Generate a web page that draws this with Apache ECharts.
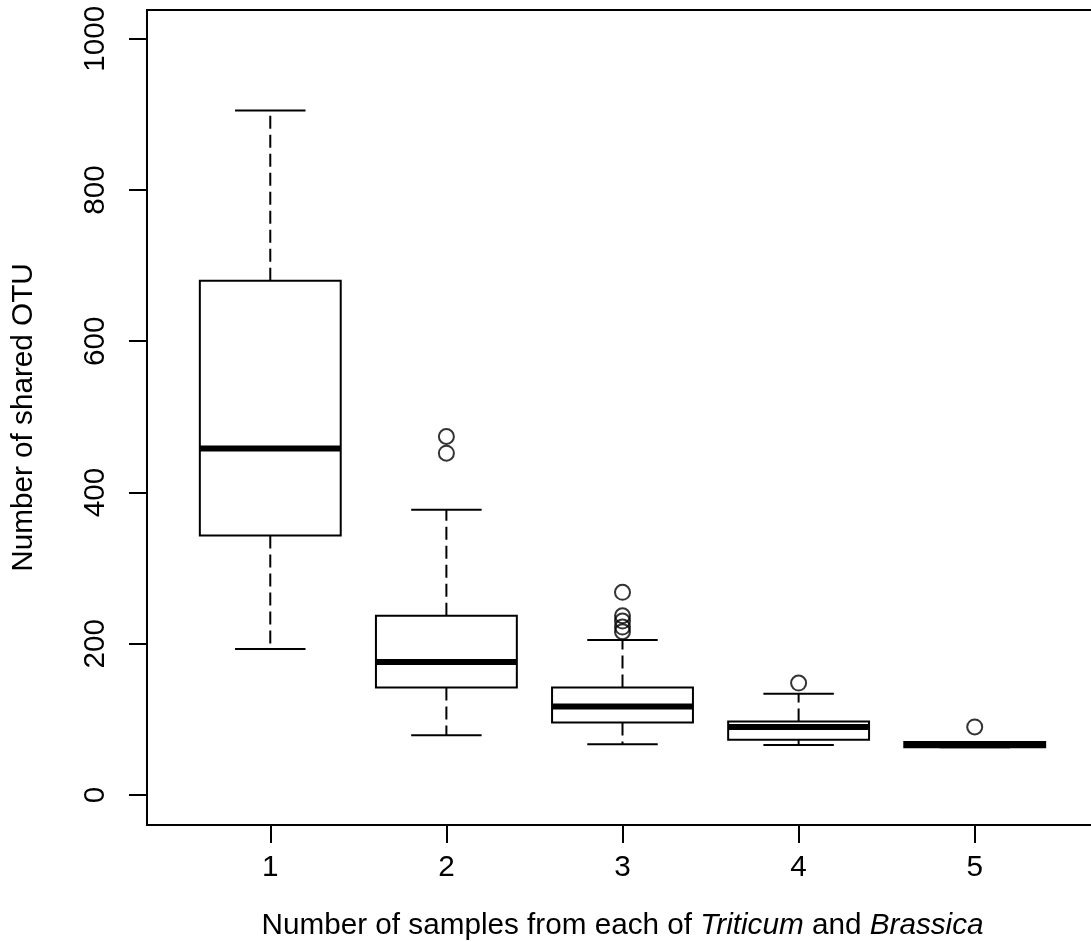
<!DOCTYPE html>
<html>
<head>
<meta charset="utf-8">
<script src="https://cdn.jsdelivr.net/npm/echarts@6.0.0/dist/echarts.min.js"></script>
<style>
  html, body { margin: 0; padding: 0; background: #fff; }
  #chart { width: 1091px; height: 942px; }
</style>
</head>
<body>
<div id="chart"></div>
<script>
  // box stats per group: [group, lower whisker, Q1, median, Q3, upper whisker]
  const groups = [1, 2, 3, 4, 5];
  const lowWhisker = [193, 79, 67, 66, 63];
  const q1 = [343, 142, 96, 73, 63];
  const median = [458, 176, 117, 90, 67];
  const q3 = [680, 237, 142, 97, 70];
  const highWhisker = [905, 377, 205, 134, 70];
  // outliers: [group, value]
  const outliers = [
    [2, 474], [2, 452],
    [3, 268], [3, 237], [3, 230], [3, 222], [3, 216],
    [4, 148],
    [5, 90]
  ];
  const yTicks = [0, 200, 400, 600, 800, 1000];

  const boxData = groups.map((g, i) => [g, lowWhisker[i], q1[i], median[i], q3[i], highWhisker[i]]);

  const FONT = 'Liberation Sans, Arial, sans-serif';
  const FS = 29.7;

  let chart = echarts.init(document.getElementById('chart'), null, { renderer: 'canvas' });

  function renderBox(params, api) {
    let x = api.value(0);
    let pLow = api.coord([x, api.value(1)]);
    let pQ1 = api.coord([x, api.value(2)]);
    let pMed = api.coord([x, api.value(3)]);
    let pQ3 = api.coord([x, api.value(4)]);
    let pHigh = api.coord([x, api.value(5)]);
    let boxW = api.size([0.8, 0])[0];
    let capW = api.size([0.4, 0])[0];
    let cx = pMed[0];
    let solid = { stroke: '#000', lineWidth: 2, fill: null };
    let dashed = { stroke: '#000', lineWidth: 2, lineDash: [13, 6], fill: null };
    return {
      type: 'group',
      children: [
        { type: 'line', shape: { x1: cx, y1: pQ3[1], x2: cx, y2: pHigh[1] }, style: dashed },
        { type: 'line', shape: { x1: cx, y1: pQ1[1], x2: cx, y2: pLow[1] }, style: dashed },
        { type: 'line', shape: { x1: cx - capW / 2, y1: pHigh[1], x2: cx + capW / 2, y2: pHigh[1] }, style: solid },
        { type: 'line', shape: { x1: cx - capW / 2, y1: pLow[1], x2: cx + capW / 2, y2: pLow[1] }, style: solid },
        { type: 'rect', shape: { x: cx - boxW / 2, y: pQ3[1], width: boxW, height: pQ1[1] - pQ3[1] }, style: solid },
        { type: 'line', shape: { x1: cx - boxW / 2, y1: pMed[1], x2: cx + boxW / 2, y2: pMed[1] }, style: { stroke: '#000', lineWidth: 6 } }
      ]
    };
  }

  let option = {
    backgroundColor: '#fff',
    animation: false,
    textStyle: { fontFamily: FONT },
    grid: {
      left: 147,
      top: 10,
      right: -7,
      bottom: 117,
      containLabel: false,
      outerBoundsMode: 'none',
      show: true,
      borderColor: '#000',
      borderWidth: 2,
      backgroundColor: 'transparent'
    },
    xAxis: {
      type: 'value',
      min: 0.3,
      max: 5.7,
      name: 'Number of samples from each of {i|Triticum} and {i|Brassica}',
      nameLocation: 'middle',
      nameGap: 86,
      nameTextStyle: {
        color: '#000',
        fontSize: FS,
        fontFamily: FONT,
        rich: {
          i: { fontStyle: 'italic', fontSize: FS, color: '#000', fontFamily: FONT }
        }
      },
      axisLine: { show: true, onZero: false, lineStyle: { color: '#000', width: 2 } },
      axisTick: { show: true, inside: false, length: 18, customValues: groups, lineStyle: { color: '#000', width: 2 } },
      axisLabel: { show: true, customValues: groups, margin: 28, color: '#000', fontSize: FS, hideOverlap: false,
        formatter: v => String(v) },
      splitLine: { show: false }
    },
    yAxis: {
      type: 'value',
      min: -39.7,
      max: 1038,
      name: 'Number of shared OTU',
      nameLocation: 'middle',
      nameGap: 108,
      nameRotate: 90,
      nameTextStyle: { color: '#000', fontSize: FS, fontFamily: FONT },
      axisLine: { show: true, onZero: false, lineStyle: { color: '#000', width: 2 } },
      axisTick: { show: true, inside: false, length: 18, customValues: yTicks, lineStyle: { color: '#000', width: 2 } },
      axisLabel: { show: true, customValues: yTicks, rotate: 90, margin: 36, color: '#000', fontSize: FS,
        formatter: v => String(v) },
      splitLine: { show: false }
    },
    series: [
      {
        name: 'boxes',
        type: 'custom',
        renderItem: renderBox,
        encode: { x: 0, y: [1, 2, 3, 4, 5] },
        data: boxData,
        z: 2
      },
      {
        name: 'outliers',
        type: 'scatter',
        symbol: 'circle',
        symbolSize: 15,
        itemStyle: { color: 'rgba(0,0,0,0)', borderColor: '#000', borderWidth: 2 },
        data: outliers,
        z: 3
      }
    ]
  };

  chart.setOption(option);
</script>
</body>
</html>
